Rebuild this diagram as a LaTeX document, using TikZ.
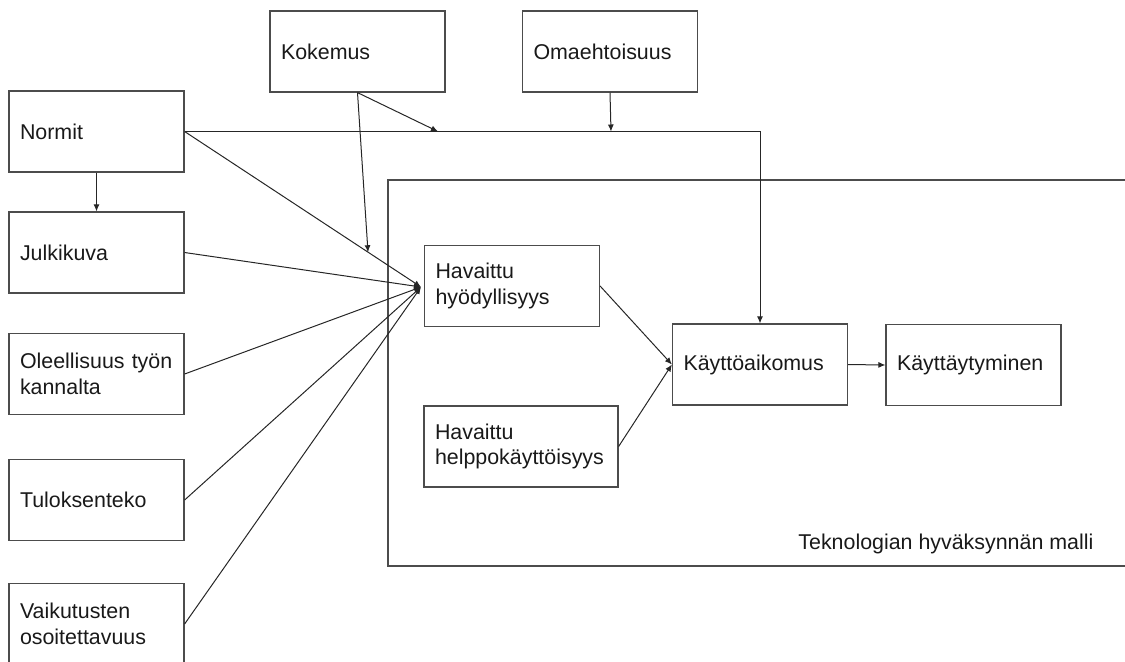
\documentclass[tikz,border=0pt]{standalone}
\usepackage{fontspec}
\setmainfont{Liberation Sans}
\usetikzlibrary{arrows.meta}
\begin{document}
\begin{tikzpicture}[x=0.5pt,y=-0.5pt,
  box/.style={draw=black!70, line width=0.6pt, rectangle, minimum height=40.5pt,
    inner xsep=5.5pt, inner ysep=0pt, align=left, text width=76.5pt,
    text=black!90, font=\fontsize{10.7pt}{12.8pt}\selectfont},
  wide/.style={text width=86pt},
  link/.style={draw=black!85, line width=0.5pt},
  arr/.style={link, -{Latex[length=3.5pt,width=3pt]}},
  frame/.style={draw=black!70, line width=0.6pt},
]
\useasboundingbox (0,0) rectangle (1125,661);

% external factors
\node[box] (normit) at (96.5,131.5) {Normit};
\node[box] (julki)  at (96.5,252.5) {Julkikuva};
\node[box] (oleel)  at (96.5,374)   {Oleellisuus työn\\kannalta};
\node[box] (tulos)  at (96.5,500)   {Tuloksenteko};
\node[box] (vaik)   at (96.5,624)   {Vaikutusten\\osoitettavuus};
\node[box] (kok)    at (357.5,51.5) {Kokemus};
\node[box] (oma)    at (610,51.5)   {Omaehtoisuus};

% technology acceptance model frame
\draw[frame] (1125,180) -- (388,180) -- (388,566) -- (1125,566);
\node[anchor=base west, inner sep=0pt, text=black!90,
  font=\fontsize{10.7pt}{12.8pt}\selectfont] (tam) at (798,549)
  {Teknologian hyväksynnän malli};

\node[box] (hyod)       at (512,286)   {Havaittu\\hyödyllisyys};
\node[box, wide] (help) at (521,446.5) {Havaittu\\helppokäyttöisyys};
\node[box] (aik)        at (760,364.5) {Käyttöaikomus};
\node[box] (kay)        at (973.5,365) {Käyttäytyminen};

% junction points
\coordinate (cv) at (421,287);
\coordinate (mj) at (438,131.5);
\coordinate (oj) at (611,131.5);
\coordinate (kj) at (368,252.2);

% connectors
\draw[arr] (normit.east) -| (aik.north);
\draw[arr] (kok.south) -- (mj);
\draw[arr] (kok.south) -- (kj);
\draw[arr] (oma.south) -- (oj);
\draw[arr] (normit.south) -- (julki.north);
\foreach \n in {normit,julki,oleel,tulos,vaik}
  \draw[arr] (\n.east) -- (cv);
\draw[arr] (hyod.east) -- (aik.west);
\draw[arr] (help.east) -- (aik.west);
\draw[arr] (aik.east) -- (kay.west);
\end{tikzpicture}
\end{document}
